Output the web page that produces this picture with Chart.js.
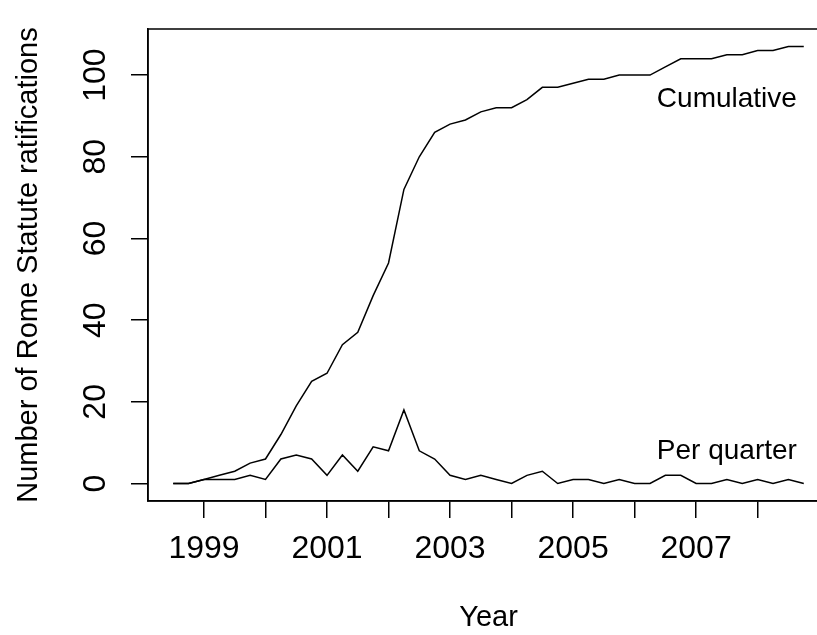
<!DOCTYPE html>
<html><head><meta charset="utf-8">
<script src="https://cdn.jsdelivr.net/npm/chart.js@4/dist/chart.umd.min.js"></script>
<style>html,body{margin:0;padding:0;background:#fff;overflow:hidden;width:817px;height:635px}canvas{display:block}</style>
</head><body>
<canvas id="c" width="860" height="635"></canvas>
<script>
// Quarter (decimal year) of each observation
const quarters = [1998.5, 1998.75,
  1999, 1999.25, 1999.5, 1999.75,
  2000, 2000.25, 2000.5, 2000.75,
  2001, 2001.25, 2001.5, 2001.75,
  2002, 2002.25, 2002.5, 2002.75,
  2003, 2003.25, 2003.5, 2003.75,
  2004, 2004.25, 2004.5, 2004.75,
  2005, 2005.25, 2005.5, 2005.75,
  2006, 2006.25, 2006.5, 2006.75,
  2007, 2007.25, 2007.5, 2007.75,
  2008, 2008.25, 2008.5, 2008.75];
const perQuarter = [0, 0,
  1, 1, 1, 2,
  1, 6, 7, 6,
  2, 7, 3, 9,
  8, 18, 8, 6,
  2, 1, 2, 1,
  0, 2, 3, 0,
  1, 1, 0, 1,
  0, 0, 2, 2,
  0, 0, 1, 0,
  1, 0, 1, 0];
const cumulative = [0, 0,
  1, 2, 3, 5,
  6, 12, 19, 25,
  27, 34, 37, 46,
  54, 72, 80, 86,
  88, 89, 91, 92,
  92, 94, 97, 97,
  98, 99, 99, 100,
  100, 100, 102, 104,
  104, 104, 105, 105,
  106, 106, 107, 107];
const xTickYears = [1999, 2000, 2001, 2002, 2003, 2004, 2005, 2006, 2007, 2008];
const xTickLabelYears = [1999, 2001, 2003, 2005, 2007];
const yTickValues = [0, 20, 40, 60, 80, 100];
const seriesLabels = ['Cumulative', 'Per quarter'];
const seriesLabelX = [2007.5, 2007.5];
const seriesLabelY = [94, 8];
const xTitle = 'Year';
const yTitle = 'Number of Rome Statute ratifications';

const FONT = '"Liberation Sans", Arial, Helvetica, sans-serif';
Chart.defaults.color = '#000';
Chart.defaults.font.family = FONT;

const toXY = (vals) => quarters.map((q, i) => ({x: q, y: vals[i]}));

const boxAndLabels = {
  id: 'boxAndLabels',
  afterDraw(chart) {
    const {ctx, chartArea: a, scales: {x, y}} = chart;
    ctx.save();
    ctx.strokeStyle = '#000';
    ctx.lineWidth = 1.5;
    ctx.strokeRect(a.left, a.top, a.right - a.left, a.bottom - a.top);
    ctx.font = '28px ' + FONT;
    ctx.fillStyle = '#000';
    ctx.textAlign = 'center';
    ctx.textBaseline = 'middle';
    seriesLabels.forEach((t, i) => {
      ctx.fillText(t, x.getPixelForValue(seriesLabelX[i]), y.getPixelForValue(seriesLabelY[i]));
    });
    ctx.restore();
  }
};

new Chart(document.getElementById('c'), {
  type: 'line',
  data: {
    datasets: [
      {label: seriesLabels[0], data: toXY(cumulative), borderColor: '#000', borderWidth: 1.5, pointRadius: 0, tension: 0, fill: false},
      {label: seriesLabels[1], data: toXY(perQuarter), borderColor: '#000', borderWidth: 1.5, pointRadius: 0, tension: 0, fill: false}
    ]
  },
  options: {
    responsive: false,
    animation: false,
    layout: {padding: {top: 29, right: 31, bottom: 0, left: 0}},
    plugins: {legend: {display: false}, tooltip: {enabled: false}},
    scales: {
      x: {
        type: 'linear',
        min: 1998.09, max: 2009.16,
        afterBuildTicks: s => { s.ticks = xTickYears.map(v => ({value: v})); },
        afterFit: s => { s.height = 134; },
        grid: {display: true, drawOnChartArea: false, drawTicks: true, tickLength: 17, color: '#000', lineWidth: 1.5},
        border: {display: true, color: '#000', width: 1.5},
        ticks: {
          autoSkip: false, maxRotation: 0, minRotation: 0, padding: 12,
          font: {size: 32, family: FONT}, color: '#000',
          callback: v => xTickLabelYears.includes(v) ? String(v) : ''
        },
        title: {display: true, text: xTitle, font: {size: 29, family: FONT}, color: '#000', padding: {top: 0, bottom: 0}}
      },
      y: {
        type: 'linear',
        min: -4.28, max: 111.28,
        afterBuildTicks: s => { s.ticks = yTickValues.map(v => ({value: v})); },
        afterFit: s => { s.width = 148; },
        grid: {display: true, drawOnChartArea: false, drawTicks: true, tickLength: 17, color: '#000', lineWidth: 1.5},
        border: {display: true, color: '#000', width: 1.5},
        ticks: {
          autoSkip: false, minRotation: 90, maxRotation: 90, crossAlign: 'center', padding: 8,
          font: {size: 32, family: FONT}, color: '#000',
          callback: v => String(v)
        },
        title: {display: true, text: yTitle, font: {size: 29, family: FONT}, color: '#000', padding: {top: 12, bottom: 0}}
      }
    }
  },
  plugins: [boxAndLabels]
});
</script>
</body></html>
